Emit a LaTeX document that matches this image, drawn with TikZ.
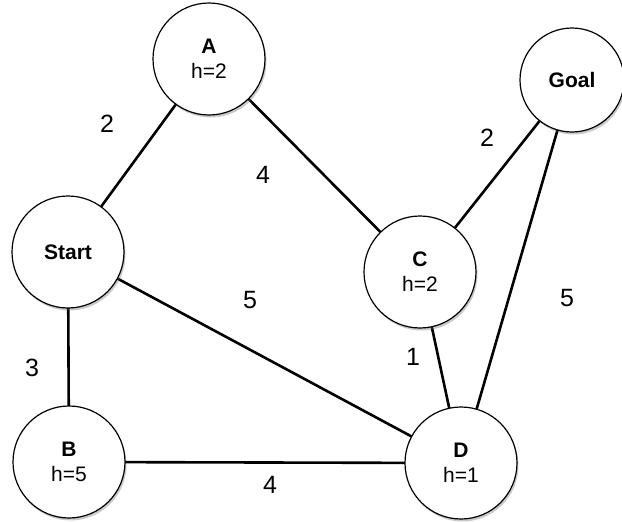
\documentclass[tikz,border=0pt]{standalone}
\usepackage{fontspec}
\setmainfont{Liberation Sans}
\usetikzlibrary{shadows}
\begin{document}
\begin{tikzpicture}[x=1pt,y=-1pt,
  gnode/.style={circle,draw=black,line width=1.2pt,fill=white,minimum size=112pt,inner sep=0pt,align=center,
    font=\fontsize{21}{25}\selectfont,
    drop shadow={shadow xshift=1.5pt,shadow yshift=-2.5pt,opacity=0.35,fill=black!60}},
  edge/.style={line width=2.6pt,black},
  wlabel/.style={font=\fontsize{25}{28}\selectfont,inner sep=0pt}]
\useasboundingbox (0,0) rectangle (622,522);
\coordinate (pA) at (209,59);
\coordinate (pG) at (572,80);
\coordinate (pS) at (68,252);
\coordinate (pC) at (420,272);
\coordinate (pB) at (69,462);
\coordinate (pD) at (461,463);
% edges
\draw[edge] (pS) -- (pA);
\draw[edge] (pA) -- (pC);
\draw[edge] (pC) -- (pG);
\draw[edge] (pG) -- (pD);
\draw[edge] (pS) -- (pD);
\draw[edge] (pC) -- (pD);
\draw[edge] (pS) -- (pB);
\draw[edge] (pB) -- (pD);
% nodes
\node[gnode] (A) at (pA) {\textbf{A}\\h=2};
\node[gnode,minimum size=104pt] (G) at (pG) {\textbf{Goal}};
\node[gnode] (S) at (pS) {\textbf{Start}};
\node[gnode] (C) at (pC) {\textbf{C}\\h=2};
\node[gnode] (B) at (pB) {\textbf{B}\\h=5};
\node[gnode] (D) at (pD) {\textbf{D}\\h=1};
% weights
\node[wlabel] (w1) at (107,124) {2};
\node[wlabel] (w2) at (263,175) {4};
\node[wlabel] (w3) at (487,138) {2};
\node[wlabel] (w4) at (250,300) {5};
\node[wlabel] (w5) at (567,298) {5};
\node[wlabel] (w6) at (32,368) {3};
\node[wlabel] (w7) at (413,357) {1};
\node[wlabel] (w8) at (270,485) {4};
\end{tikzpicture}
\end{document}
